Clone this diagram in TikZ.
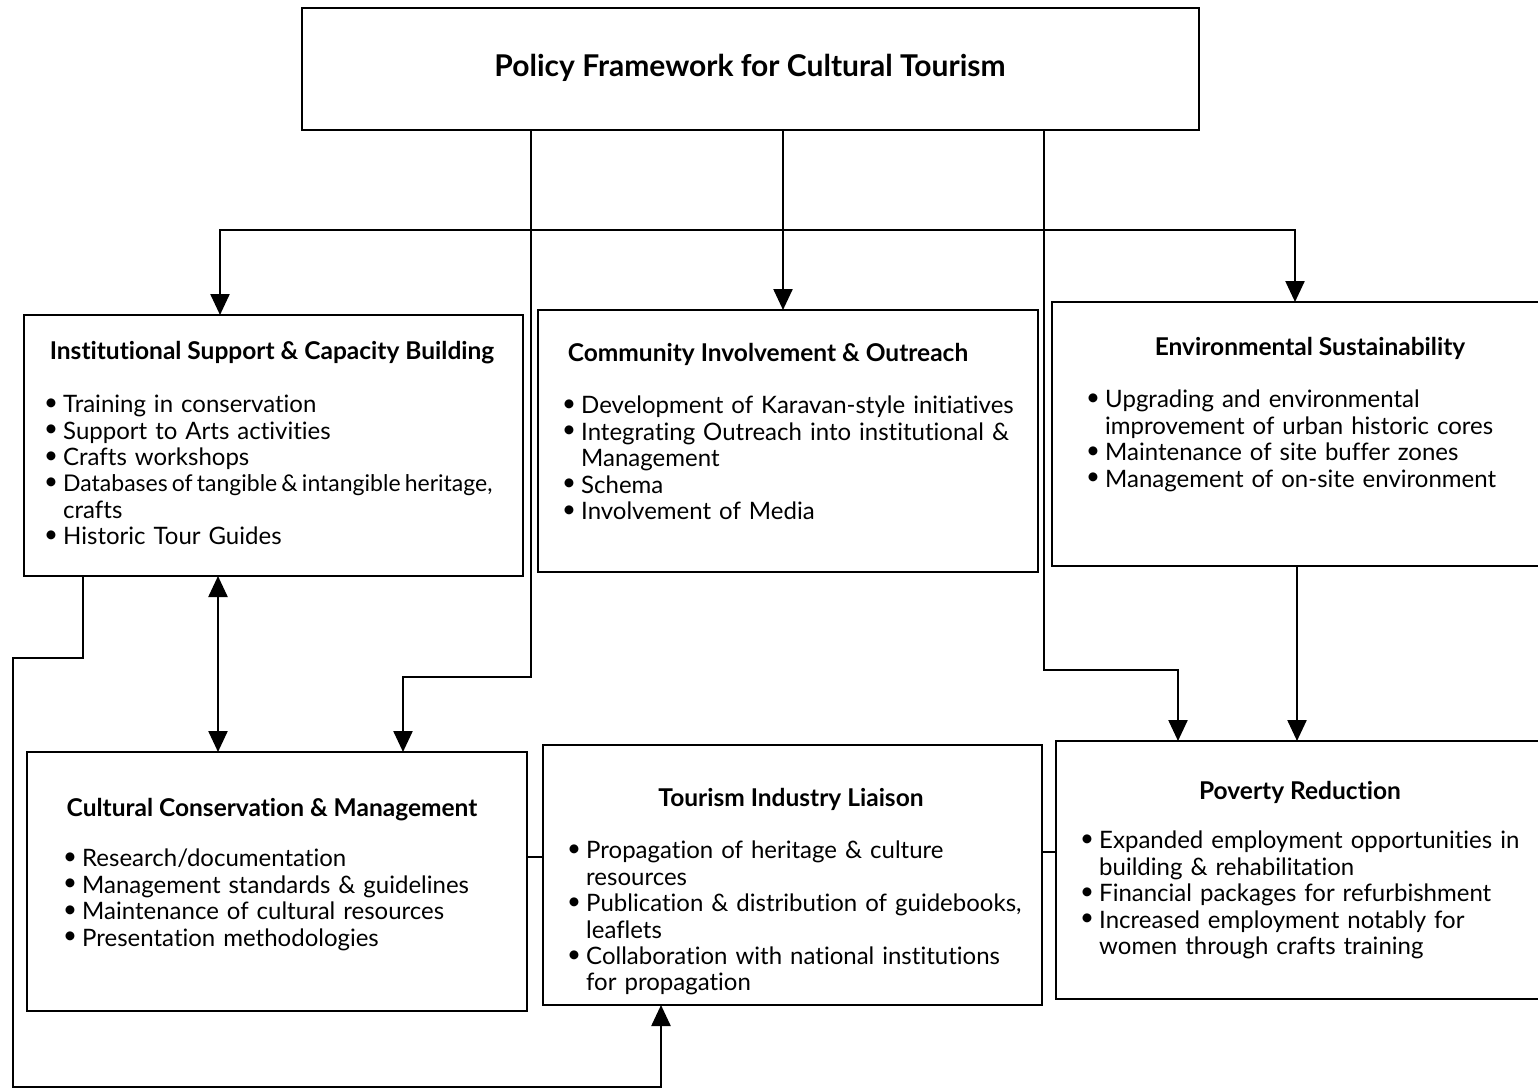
\documentclass[tikz,border=0pt]{standalone}
\usepackage{fontspec}
\setmainfont{Lato}[Ligatures=NoCommon]
\usetikzlibrary{arrows.meta}
\newcommand{\bpt}[1]{\hangindent=19pt\hangafter=1\noindent\makebox[19pt][l]{\raisebox{0.2ex}{\textbullet}}#1\par}
\begin{document}
\begin{tikzpicture}[x=1pt,y=-1pt,
  box/.style={draw,line width=2.6pt,rectangle,inner sep=0pt,outer sep=0pt,anchor=north west},
  head/.style={font=\fontsize{24.5}{28}\selectfont\bfseries,inner sep=0pt,anchor=base},
  lst/.style={font=\fontsize{24}{26.4}\selectfont,inner sep=0pt,anchor=north west,text width=520pt,align=left},
  con/.style={line width=2.4pt},
  arr/.style={line width=2.4pt,-{Triangle[width=19pt,length=21pt]}},
  darr/.style={line width=2.4pt,{Triangle[width=19pt,length=21pt]}-{Triangle[width=19pt,length=21pt]}}]
\useasboundingbox (0,0) rectangle (1538,1091);
% boxes
\node[box,minimum width=897pt,minimum height=122pt] (pf) at (302,8) {};
\node[font=\fontsize{30}{34}\selectfont\bfseries,inner sep=0pt,anchor=base] (pft) at (750,77) {Policy Framework for Cultural Tourism};
\node[box,minimum width=499pt,minimum height=261pt] (ins) at (24,315) {};
\node[box,minimum width=500pt,minimum height=262pt] (ci) at (538,310) {};
\node[box,minimum width=530pt,minimum height=264pt] (env) at (1052,302) {};
\node[box,minimum width=500pt,minimum height=259pt] (ccm) at (27,752) {};
\node[box,minimum width=499pt,minimum height=260pt] (tour) at (543,745) {};
\node[box,minimum width=530pt,minimum height=258pt] (pov) at (1056,741) {};
% titles
\node[head] (inst) at (272,359) {Institutional Support \& Capacity Building};
\node[head] (cit) at (768,361) {Community Involvement \& Outreach};
\node[head] (envt) at (1310,355) {Environmental Sustainability};
\node[head] (ccmt) at (272,816) {Cultural Conservation \& Management};
\node[head] (tourt) at (791,806) {Tourism Industry Liaison};
\node[head] (povt) at (1300,799) {Poverty Reduction};
% lists
\node[lst] (insl) at (44,395) {\bpt{Training in conservation}\bpt{Support to Arts activities}\bpt{Crafts workshops}\bpt{{\fontsize{23}{26.4}\selectfont\spaceskip=0.18em Databases of tangible \& intangible heritage,}\newline crafts}\bpt{Historic Tour Guides}};
\node[lst] (cil) at (562,396) {\bpt{Development of Karavan-style initiatives}\bpt{Integrating Outreach into institutional \&\newline Management}\bpt{Schema}\bpt{Involvement of Media}};
\node[lst] (envl) at (1086,390) {\bpt{Upgrading and environmental\newline improvement of urban historic cores}\bpt{Maintenance of site buffer zones}\bpt{Management of on-site environment}};
\node[lst] (ccml) at (63,849) {\bpt{Research/documentation}\bpt{Management standards \& guidelines}\bpt{Maintenance of cultural resources}\bpt{Presentation methodologies}};
\node[lst] (tourl) at (567,841) {\bpt{Propagation of heritage \& culture\newline resources}\bpt{Publication \& distribution of guidebooks,\newline leaflets}\bpt{Collaboration with national institutions\newline for propagation}};
\node[lst] (povl) at (1080,831) {\bpt{Expanded employment opportunities in\newline building \& rehabilitation}\bpt{Financial packages for refurbishment}\bpt{Increased employment notably for\newline women through crafts training}};
% helper coordinates
\coordinate (xm) at (783,0);
\coordinate (xi) at (220,0);
\coordinate (xe) at (1295,0);
\coordinate (hb) at (783,230);
\coordinate (xl) at (531,0);
\coordinate (yl) at (0,677);
\coordinate (xc) at (403,0);
\coordinate (xr) at (1044,0);
\coordinate (yr) at (0,670);
\coordinate (xp) at (1178,0);
\coordinate (xq) at (1297,0);
\coordinate (xd) at (218,0);
\coordinate (xb) at (83,0);
\coordinate (yb1) at (0,658);
\coordinate (xf) at (13,0);
\coordinate (yb2) at (0,1087);
\coordinate (xt) at (661,0);
\coordinate (y1) at (0,857);
\coordinate (y2) at (0,852);
% connectors
\draw[arr] (pf.south -| xm) -- (ci.north -| xm);
\draw[arr] (hb) -| (ins.north -| xi);
\draw[arr] (hb) -| (env.north -| xe);
\draw[arr] (pf.south -| xl) -- (xl |- yl) -| (ccm.north -| xc);
\draw[arr] (pf.south -| xr) -- (xr |- yr) -| (pov.north -| xp);
\draw[arr] (env.south -| xq) -- (pov.north -| xq);
\draw[darr] (ins.south -| xd) -- (ccm.north -| xd);
\draw[arr] (ins.south -| xb) -- (xb |- yb1) -- (xf |- yb1) -- (xf |- yb2) -| (tour.south -| xt);
\draw[con] (ccm.east |- y1) -- (tour.west |- y1);
\draw[con] (tour.east |- y2) -- (pov.west |- y2);
\end{tikzpicture}
\end{document}
